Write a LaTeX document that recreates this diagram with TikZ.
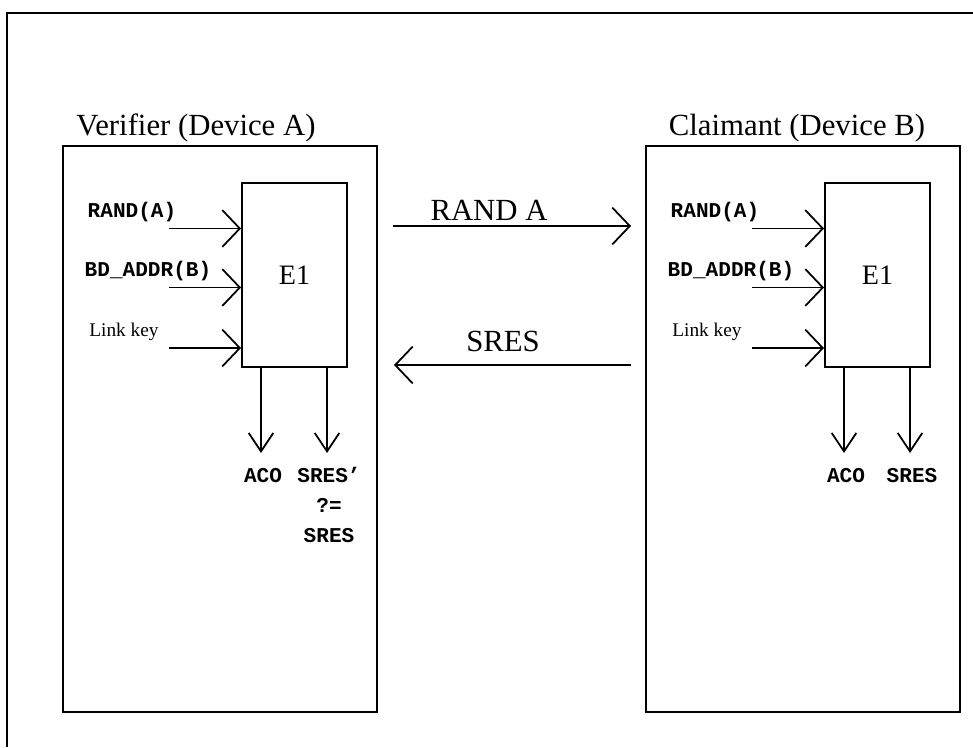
\documentclass[tikz,border=0pt]{standalone}
\usepackage{fontspec}
\setmainfont{Liberation Serif}
\newfontfamily\codefont{Liberation Mono}
\usetikzlibrary{arrows.meta,fit}

\tikzset{
  box/.style={draw, line width=1.1pt, inner sep=0pt},
  barb/.style={-{Straight Barb[length=10pt,width=21pt]}, line width=1pt},
  dbarb/.style={-{Straight Barb[length=10.5pt,width=14pt]}, line width=1pt},
  bigtxt/.style={font=\fontsize{17.5}{20}\selectfont, inner sep=0pt, anchor=base},
  codetxt/.style={font=\codefont\bfseries\fontsize{12}{14}\selectfont, inner sep=0pt, anchor=base},
  smalltxt/.style={font=\fontsize{11}{13}\selectfont, inner sep=0pt, anchor=base},
}

\begin{document}
\begin{tikzpicture}[x=0.02cm, y=-0.02cm]
  \useasboundingbox (0,0) rectangle (973,747);
  % outer frame (only top and left edges show)
  \draw[line width=1.2pt] (7,747) -- (7,13) -- (973,13);
  % ------- both devices: same layout, B shifted to the right -------
  \foreach \s/\dx in {A/0,B/583} {
    \node[box, fit={(63+\dx,146) (377+\dx,712)}] (dev\s) {};
    \node[box, fit={(242+\dx,183) (347+\dx,367)}] (e1\s) {};
    \node[font=\fontsize{16}{18}\selectfont, inner sep=0pt] (e1txt\s) at (e1\s.center) {E1};
    \foreach \i/\y/\lx/\lab in {1/217/132/{RAND(A)},2/276/148/{BD\_ADDR(B)}} {
      \node[codetxt] (lbl\s\i) at (\lx+\dx,\y) {\lab};
      \coordinate (in\s\i) at (169+\dx,\y+11.5);
      \draw[barb] (in\s\i) -- (in\s\i -| e1\s.west);
    }
    \node[smalltxt] (lbl\s3) at (124+\dx,336) {Link key};
    \coordinate (in\s3) at (169+\dx,348);
    \draw[barb] (in\s3) -- (in\s3 -| e1\s.west);
    % outputs
    \coordinate (aco\s) at (261+\dx,453);
    \coordinate (sres\s) at (327+\dx,453);
    \draw[dbarb] (e1\s.south -| aco\s) -- (aco\s);
    \draw[dbarb] (e1\s.south -| sres\s) -- (sres\s);
    \node[codetxt] (acoLbl\s) at (263+\dx,482) {ACO};
  }
  \node[bigtxt] (verTitle) at (196,135) {Verifier (Device A)};
  \node[bigtxt] (claTitle) at (797,135) {Claimant (Device B)};
  \node[codetxt] (sresLblA1) at (329,482) {SRES’};
  \node[codetxt] (sresLblA2) at (329,512) {?=};
  \node[codetxt] (sresLblA3) at (329,542) {SRES};
  \node[codetxt] (sresLblB) at (912,482) {SRES};
  % ------- messages between the devices -------
  \coordinate (randY) at (0,226);
  \coordinate (sresY) at (0,365);
  \draw[barb, shorten <=0.3cm, shorten >=0.28cm] (devA.east |- randY) -- (devB.west |- randY);
  \node[bigtxt] (randMsg) at (489,220) {RAND A};
  \draw[barb, shorten <=0.28cm, shorten >=0.32cm] (devB.west |- sresY) -- (devA.east |- sresY);
  \node[bigtxt] (sresMsg) at (503,351) {SRES};
\end{tikzpicture}
\end{document}
